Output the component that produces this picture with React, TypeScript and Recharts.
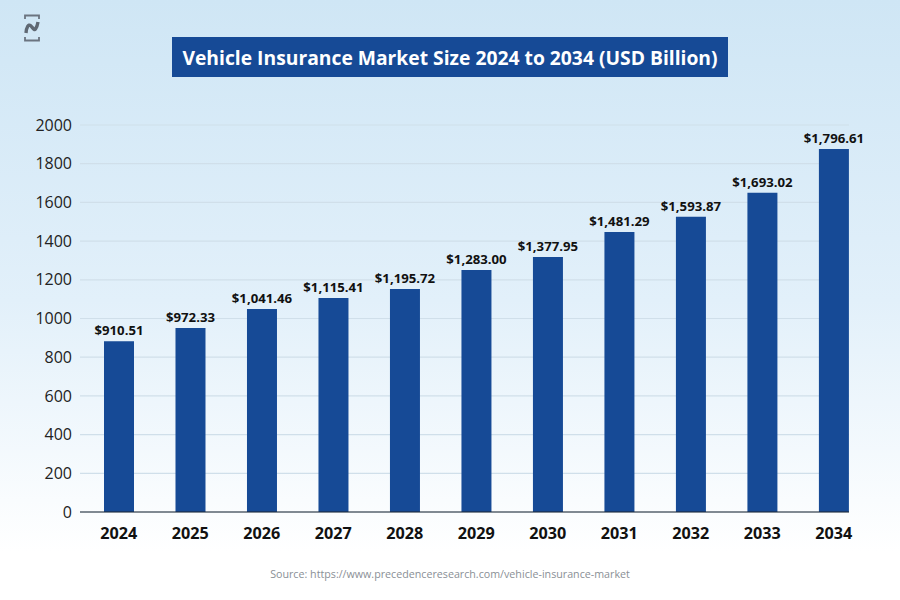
import React from 'react';
import { BarChart, Bar, XAxis, YAxis, CartesianGrid, LabelList } from 'recharts';

const years = ['2024', '2025', '2026', '2027', '2028', '2029', '2030', '2031', '2032', '2033', '2034'];
// bar heights as drawn in the picture, they sit a bit off the printed labels
const barValues = [882, 951, 1049, 1106, 1152, 1251, 1318, 1447, 1526, 1650, 1876];
const valueLabels = ['$910.51', '$972.33', '$1,041.46', '$1,115.41', '$1,195.72', '$1,283.00', '$1,377.95', '$1,481.29', '$1,593.87', '$1,693.02', '$1,796.61'];
const yTicks = [0, 200, 400, 600, 800, 1000, 1200, 1400, 1600, 1800, 2000];

const data = years.map((year, i) => ({ year, value: barValues[i], label: valueLabels[i] }));

const FONT = '"Open Sans", "Noto Sans", sans-serif';

function Logo() {
    return (
        <svg width={18} height={28} viewBox="0 0 18 28" style={{ position: 'absolute', left: 22.5, top: 14 }}>
            <path d="M2 5V1.5H16V5M2 23V26.5H16V23" fill="none" stroke="#6b7480" strokeWidth={1.8} />
            <path d="M3 19C3.5 13 5.5 10 7.5 11.5C9.5 13 11 17 12.5 15C14 13 14.5 11 15 8" fill="none" stroke="#5f6873" strokeWidth={3.4} />
        </svg>
    );
}

export default function App() {
    return (
        <div
            style={{
                position: 'absolute',
                left: 0,
                top: 0,
                width: 900,
                height: 600,
                overflow: 'hidden',
                fontFamily: FONT,
                background: 'linear-gradient(180deg, #cfe6f5 0%, #e2f0fa 50%, #ffffff 92%)',
            }}
        >
            <Logo />
            <div
                style={{
                    position: 'absolute',
                    left: 172,
                    top: 37,
                    width: 556,
                    height: 40,
                    lineHeight: '41px',
                    textAlign: 'center',
                    background: '#164a96',
                    color: '#ffffff',
                    fontSize: 19.3,
                    fontWeight: 700,
                    whiteSpace: 'nowrap',
                }}
            >
                Vehicle Insurance Market Size 2024 to 2034 (USD Billion)
            </div>
            <BarChart
                width={900}
                height={600}
                data={data}
                barSize={30}
                margin={{ top: 125, right: 51, bottom: 0, left: 0 }}
                style={{ position: 'absolute', left: 0, top: 0 }}
            >
                <CartesianGrid vertical={false} stroke="#d0dfea" strokeWidth={1.2} />
                <XAxis
                    dataKey="year"
                    padding={{ left: 3, right: -20.4 }}
                    tickLine={false}
                    axisLine={{ stroke: '#1c2530', strokeWidth: 1.2 }}
                    tick={{ fontSize: 16.2, fontWeight: 700, fill: '#111111', fontFamily: FONT }}
                    tickMargin={9}
                    height={88}
                    interval={0}
                />
                <YAxis
                    domain={[0, 2000]}
                    ticks={yTicks}
                    width={80}
                    interval={0}
                    tickLine={false}
                    axisLine={false}
                    tick={{ fontSize: 16, fill: '#222222', fontFamily: FONT }}
                    tickMargin={2}
                />
                <Bar dataKey="value" fill="#164a96" isAnimationActive={false}>
                    <LabelList
                        dataKey="label"
                        position="top"
                        offset={6}
                        style={{ fontSize: 13.2, fontWeight: 700, fill: '#111111', fontFamily: FONT }}
                    />
                </Bar>
            </BarChart>
            <div
                style={{
                    position: 'absolute',
                    left: 0,
                    width: 900,
                    top: 566,
                    textAlign: 'center',
                    fontSize: 10.7,
                    lineHeight: '16px',
                    color: '#8a8f96',
                }}
            >
                Source: https://www.precedenceresearch.com/vehicle-insurance-market
            </div>
        </div>
    );
}
